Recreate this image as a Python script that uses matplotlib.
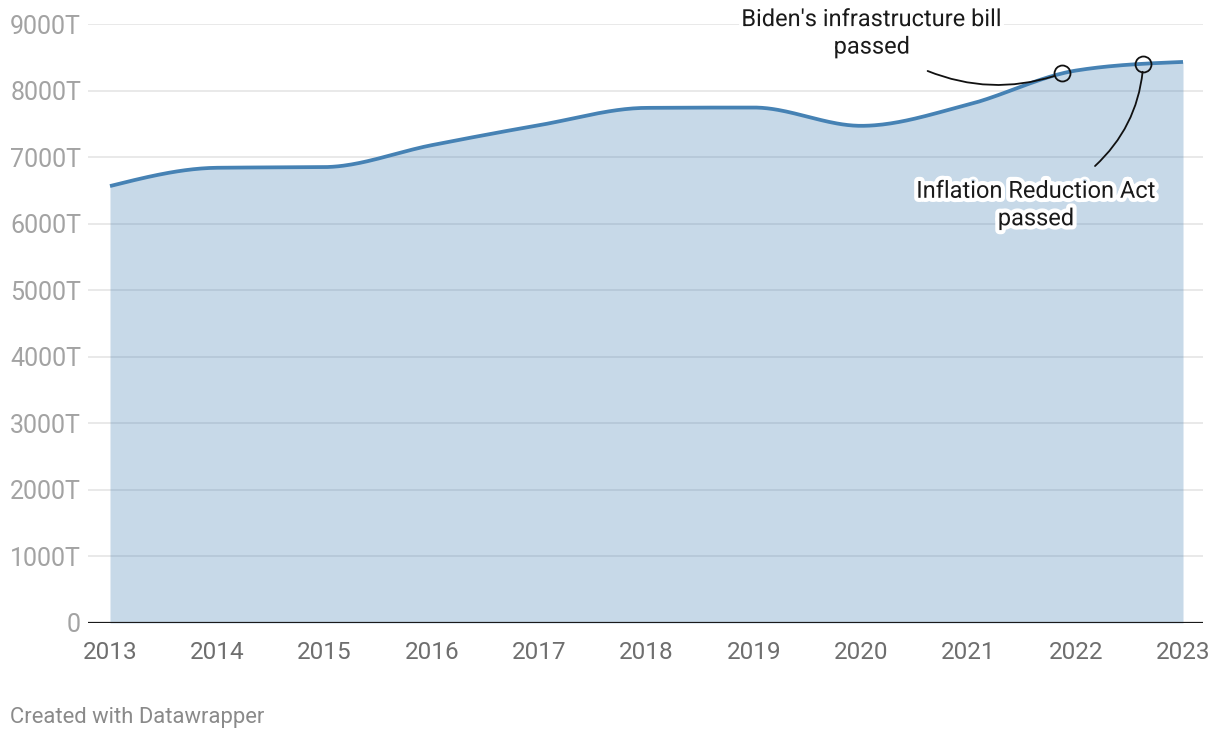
import numpy as np
import matplotlib
matplotlib.use("Agg")
import matplotlib.pyplot as plt
import matplotlib.patheffects as pe

plt.rcParams['font.family'] = ['Roboto', 'DejaVu Sans']

# ---- data ----
years = [2013, 2014, 2015, 2016, 2017, 2018, 2019, 2020, 2021, 2022, 2023]
values = [6565, 6840, 6850, 7180, 7480, 7740, 7745, 7470, 7790, 8300, 8430]  # in T
y_ticks = [0, 1000, 2000, 3000, 4000, 5000, 6000, 7000, 8000, 9000]
y_tick_labels = ["0", "1000T", "2000T", "3000T", "4000T", "5000T", "6000T", "7000T", "8000T", "9000T"]
x_tick_labels = ["2013", "2014", "2015", "2016", "2017", "2018", "2019", "2020", "2021", "2022", "2023"]
annot_dates = [2021.87, 2022.63]
annot_texts = ["Biden's infrastructure bill\npassed", "Inflation Reduction Act\npassed"]


def monotone_x(xs, ys, n=40):
    """d3 curveMonotoneX style rendering of the data points."""
    xs = np.asarray(xs, float)
    ys = np.asarray(ys, float)
    h = np.diff(xs)
    s = np.diff(ys) / h
    m = np.zeros_like(ys)
    for i in range(1, len(xs) - 1):
        if s[i - 1] * s[i] <= 0:
            m[i] = 0
        else:
            p = (s[i - 1] * h[i] + s[i] * h[i - 1]) / (h[i - 1] + h[i])
            m[i] = (np.sign(s[i - 1]) + np.sign(s[i])) * min(abs(s[i - 1]), abs(s[i]), 0.5 * abs(p))
    m[0] = (3 * s[0] - m[1]) / 2
    m[-1] = (3 * s[-1] - m[-2]) / 2
    X, Y = [], []
    for i in range(len(xs) - 1):
        t = np.linspace(0, 1, n, endpoint=(i == len(xs) - 2))
        dx = h[i]
        h00 = 2 * t**3 - 3 * t**2 + 1
        h10 = t**3 - 2 * t**2 + t
        h01 = -2 * t**3 + 3 * t**2
        h11 = t**3 - t**2
        X.extend(xs[i] + t * dx)
        Y.extend(h00 * ys[i] + h10 * dx * m[i] + h01 * ys[i + 1] + h11 * dx * m[i + 1])
    return np.array(X), np.array(Y)


cx, cy = monotone_x(years, values)

W, H = 1220, 740
fig = plt.figure(figsize=(W / 100, H / 100), dpi=100)
ax = fig.add_axes([88 / W, (H - 623) / H, (1203 - 88) / W, (623 - 24) / H])

ax.set_xlim(2013 - 22 / 107.3, 2023 + 20 / 107.3)
ax.set_ylim(0, 9000)

for t in y_ticks[1:]:
    ax.axhline(t, color='#e3e3e3', lw=1.1, zorder=0)

ax.fill_between(cx, 0, cy, color='#4682b4', alpha=0.30, lw=0, zorder=1)
ax.plot(cx, cy, color='#4682b4', lw=2.7, solid_capstyle='butt', zorder=3)
ax.axhline(0, color='#1a1a1a', lw=1.6, zorder=4)

for s in ax.spines.values():
    s.set_visible(False)

ax.set_yticks(y_ticks)
ax.set_yticklabels(y_tick_labels)
ax.set_xticks(years)
ax.set_xticklabels(x_tick_labels)
ax.tick_params(axis='y', length=0, pad=5, labelsize=18, labelcolor='#a3a3a3')
ax.tick_params(axis='x', length=0, pad=13, labelsize=17.5, labelcolor='#6e6e6e')

# annotations
halo = [pe.withStroke(linewidth=6, foreground='white')]
ay = np.interp(annot_dates, cx, cy)
ax.plot(annot_dates, ay, 'o', ms=11.5, mfc='none', mec='#111111', mew=1.3, zorder=6)

ax.text(2020.10, 8860, annot_texts[0], ha='center', va='center', fontsize=17,
        color='#1a1a1a', linespacing=1.25, path_effects=halo, zorder=7)
ax.text(2021.63, 6280, annot_texts[1], ha='center', va='center', fontsize=17,
        color='#1a1a1a', linespacing=1.25, path_effects=halo, zorder=7)

ax.annotate('', xy=(annot_dates[0], ay[0]), xytext=(2020.62, 8294),
            arrowprops=dict(arrowstyle='-', color='#111111', lw=1.3,
                            connectionstyle='arc3,rad=0.19', shrinkA=0, shrinkB=5.8),
            zorder=5)
ax.annotate('', xy=(annot_dates[1], ay[1]), xytext=(2022.18, 6866),
            arrowprops=dict(arrowstyle='-', color='#111111', lw=1.3,
                            connectionstyle='arc3,rad=0.2', shrinkA=0, shrinkB=5.8),
            zorder=5)

fig.text(10 / W, 1 - 717 / H, "Created with Datawrapper", ha='left', va='center',
         fontsize=15.8, color='#8a8a8a')

fig.savefig('out.png', dpi=100)
